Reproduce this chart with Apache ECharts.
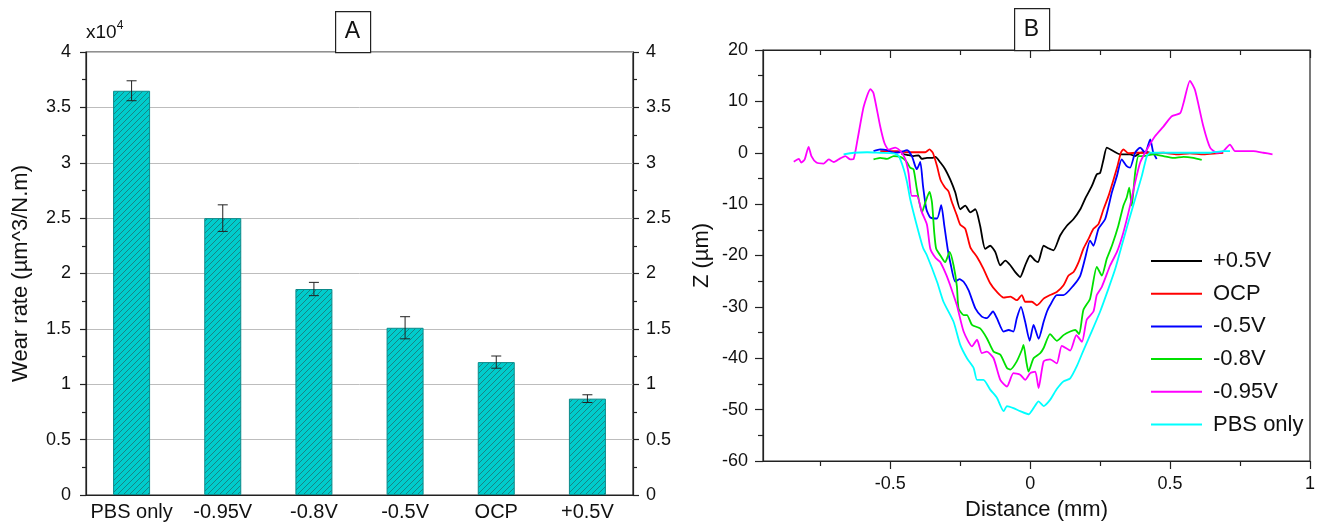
<!DOCTYPE html>
<html>
<head>
<meta charset="utf-8">
<script src="https://cdn.jsdelivr.net/npm/echarts@6/dist/echarts.min.js"></script>
<style>
html,body{margin:0;padding:0;background:#fff;}
#chart{width:1325px;height:526px;}
</style>
</head>
<body>
<div id="chart"></div>
<script>
// panel A : wear rate (x10^4)
var categories = ['PBS only', '-0.95V', '-0.8V', '-0.5V', 'OCP', '+0.5V'];
var wearRate = [3.65, 2.50, 1.86, 1.51, 1.20, 0.87];
var wearErr = [0.09, 0.12, 0.06, 0.10, 0.055, 0.035];

// panel B : profiles [distance mm, Z um]
var lineNames = ['+0.5V', 'OCP', '-0.5V', '-0.8V', '-0.95V', 'PBS only'];
var lineColors = ['#000000', '#ff0000', '#0000ff', '#00e000', '#ff00ff', '#00ffff'];

var p05V = [[-0.46,-0.2],[-0.44,-0.4],[-0.417,-0.65],[-0.399,-0.5],[-0.387,-1.2],[-0.369,-1.0],[-0.351,-1.0],[-0.339,-0.8],
  [-0.321,-1.9],[-0.304,-3.2],[-0.286,-5.2],[-0.268,-7.7],[-0.25,-11],[-0.232,-10.3],[-0.214,-11.6],[-0.196,-11],
  [-0.179,-14.2],[-0.161,-18.7],[-0.143,-18.1],[-0.125,-19.3],[-0.107,-21.9],[-0.089,-21.0],[-0.071,-21.9],[-0.054,-23.2],
  [-0.036,-24.2],[-0.018,-21.9],[0,-20],[0.018,-21],[0.028,-21.3],[0.048,-18.1],[0.065,-18.6],[0.083,-19],[0.107,-16.1],
  [0.131,-14.2],[0.155,-12.9],[0.179,-11],[0.196,-9.0],[0.22,-6.5],[0.238,-4.2],[0.25,-3.9],[0.262,-1.3],[0.274,1.0],
  [0.298,0.3],[0.321,-0.3],[0.345,-0.3],[0.357,-0.3],[0.375,-0.65],[0.393,0],[0.417,0.1],[0.435,-0.1]];

var ocp = [[-0.536,0.3],[-0.512,0.3],[-0.476,0.3],[-0.44,0.1],[-0.405,0.1],[-0.375,0.1],[-0.36,0.65],[-0.348,0],
  [-0.333,-2.6],[-0.321,-5.2],[-0.304,-6.8],[-0.292,-7.5],[-0.28,-9.6],[-0.262,-12.2],[-0.25,-14.0],[-0.232,-14.8],
  [-0.214,-18.4],[-0.19,-20.3],[-0.167,-22.6],[-0.143,-25.4],[-0.119,-27.1],[-0.095,-28.2],[-0.071,-28.0],[-0.048,-28.7],
  [-0.030,-27.7],[-0.018,-29],[0.006,-29],[0.024,-29.7],[0.048,-28.4],[0.071,-27.7],[0.095,-27.1],[0.119,-25.8],
  [0.137,-23.9],[0.155,-23.2],[0.173,-21.3],[0.19,-18.7],[0.208,-16.8],[0.226,-14.8],[0.244,-13.9],[0.262,-11],
  [0.28,-8.4],[0.298,-5.2],[0.312,-2.6],[0.324,0],[0.333,0.65],[0.351,-0.1],[0.381,0],[0.41,0],[0.44,-0.1],[0.476,0],
  [0.524,-0.3],[0.571,-0.1],[0.619,-0.3],[0.667,-0.1],[0.69,0]];

var m05V = [[-0.56,0.3],[-0.536,0.65],[-0.512,0.5],[-0.488,0],[-0.464,0.1],[-0.44,0.5],[-0.423,-0.65],[-0.411,-2.6],
  [-0.405,-3.2],[-0.393,-1.8],[-0.383,-6.5],[-0.371,-11],[-0.357,-12.6],[-0.333,-12.8],[-0.318,-10.2],[-0.307,-14.2],
  [-0.295,-18.7],[-0.285,-21.5],[-0.268,-25.1],[-0.253,-24.6],[-0.238,-25.1],[-0.22,-26.8],[-0.196,-30.3],[-0.173,-31.9],
  [-0.155,-32.2],[-0.133,-30.9],[-0.119,-32.2],[-0.095,-34.8],[-0.077,-34.5],[-0.06,-34.8],[-0.048,-32.2],[-0.033,-30],
  [-0.018,-32.9],[-0.002,-36.6],[0.012,-33.5],[0.030,-36.2],[0.048,-32.9],[0.06,-30.9],[0.071,-29.7],[0.095,-27.7],
  [0.119,-27.7],[0.155,-25.8],[0.179,-23.9],[0.196,-20.6],[0.214,-17.1],[0.226,-18.1],[0.244,-14.8],[0.268,-12.9],
  [0.292,-7.7],[0.31,-4.5],[0.327,-1.3],[0.345,-2.6],[0.357,-2.9],[0.375,0],[0.393,1.0],[0.411,0],[0.429,2.6],
  [0.44,0],[0.452,-1.2]];

var m08V = [[-0.56,-1.3],[-0.536,-1.0],[-0.512,-1.2],[-0.488,-0.65],[-0.464,-0.8],[-0.452,-1.2],[-0.44,-1.9],[-0.429,-2.9],
  [-0.417,-3.2],[-0.405,-7.1],[-0.387,-11.6],[-0.375,-9.7],[-0.36,-7.6],[-0.351,-9.7],[-0.343,-15.5],[-0.336,-18.7],
  [-0.321,-20],[-0.304,-21.3],[-0.288,-19.3],[-0.274,-21.9],[-0.262,-26],[-0.256,-30.3],[-0.238,-31.6],[-0.226,-31.6],
  [-0.208,-33.5],[-0.179,-34.2],[-0.155,-36.1],[-0.131,-38.7],[-0.107,-39.3],[-0.083,-41.9],[-0.071,-42.2],[-0.048,-40.6],
  [-0.030,-38.4],[-0.024,-37.4],[-0.014,-40.6],[-0.006,-42.6],[0.012,-40],[0.036,-39],[0.048,-38],[0.071,-35.3],
  [0.095,-36.6],[0.119,-35.5],[0.143,-34.8],[0.161,-34.5],[0.175,-35.3],[0.19,-30.6],[0.214,-28.4],[0.238,-22.2],
  [0.256,-23.9],[0.274,-20.6],[0.292,-18.1],[0.315,-14.2],[0.333,-10.3],[0.345,-8.7],[0.354,-6.8],[0.363,-10.3],
  [0.375,-3.9],[0.387,-0.65],[0.405,-0.65],[0.44,-0.3],[0.476,-0.65],[0.512,-1],[0.548,-0.8],[0.583,-1],[0.613,-1.4]];

var m095V = [[-0.845,-1.74],[-0.827,-1.2],[-0.818,-1.9],[-0.806,-1.3],[-0.792,1.15],[-0.782,-0.65],[-0.764,-1.9],
  [-0.738,-2.1],[-0.72,-1.3],[-0.702,-1.8],[-0.679,-1.1],[-0.661,-0.65],[-0.643,-1.3],[-0.631,-1.2],[-0.617,2.6],
  [-0.595,9.0],[-0.571,12.4],[-0.56,11.6],[-0.536,5.1],[-0.521,1.9],[-0.506,0.6],[-0.482,1.0],[-0.464,0.3],[-0.446,-1.3],
  [-0.435,-3.9],[-0.423,-8.4],[-0.405,-8.4],[-0.387,-11.6],[-0.369,-14],[-0.357,-18.7],[-0.338,-20.5],[-0.321,-21.3],
  [-0.298,-24],[-0.286,-25.8],[-0.262,-29.7],[-0.238,-34.8],[-0.208,-37.7],[-0.19,-36.4],[-0.173,-39],[-0.155,-38.7],
  [-0.131,-40],[-0.107,-44.2],[-0.083,-45.5],[-0.06,-42.9],[-0.036,-43.2],[-0.018,-44.2],[0,-42.9],[0.018,-42.6],
  [0.03,-45.8],[0.048,-40.6],[0.071,-40.2],[0.095,-41],[0.113,-37.6],[0.143,-38.5],[0.165,-35.5],[0.185,-36.8],
  [0.202,-32.5],[0.226,-30.9],[0.238,-27.7],[0.256,-26.1],[0.286,-21.9],[0.31,-19.3],[0.333,-15.5],[0.357,-10.3],
  [0.375,-5.8],[0.393,-1.9],[0.417,0.6],[0.446,3.2],[0.476,5.1],[0.506,7.1],[0.536,7.7],[0.548,9.7],[0.571,14.0],
  [0.589,12.2],[0.619,5.1],[0.643,1.0],[0.667,0],[0.69,0.3],[0.714,1.6],[0.732,0.3],[0.762,0.3],[0.798,0.3],
  [0.833,0],[0.866,-0.3]];

var pbsOnly = [[-0.667,-0.3],[-0.631,0],[-0.583,0.1],[-0.536,0],[-0.488,-0.1],[-0.47,-0.65],[-0.452,-3.2],[-0.44,-5.8],
  [-0.429,-9.0],[-0.405,-14.2],[-0.383,-18.5],[-0.369,-20],[-0.333,-25.1],[-0.31,-29],[-0.274,-32.9],[-0.25,-37.4],
  [-0.226,-40],[-0.202,-41.9],[-0.19,-44.2],[-0.167,-44.2],[-0.143,-46.1],[-0.119,-47.7],[-0.095,-50.3],[-0.083,-49.3],
  [-0.06,-49.7],[-0.036,-50.3],[-0.006,-50.9],[0.012,-49.7],[0.03,-48.4],[0.048,-49.3],[0.071,-48.1],[0.095,-46],
  [0.119,-44.5],[0.143,-43.9],[0.167,-41.5],[0.19,-38.5],[0.214,-35.5],[0.25,-30.9],[0.28,-26.4],[0.304,-22.6],
  [0.327,-18.1],[0.351,-13.5],[0.375,-9.0],[0.399,-4.5],[0.417,-0.65],[0.429,0],[0.476,0],[0.524,0],[0.571,0],
  [0.643,0],[0.69,0.3],[0.714,0.3]];

var lineData = [p05V, ocp, m05V, m08V, m095V, pbsOnly];
var xMajor = [-0.5, 0, 0.5, 1];
var xMinor = [-0.75, -0.25, 0.25, 0.75];

var FONT = '"Liberation Sans", Arial, sans-serif';
var AXIS = '#222';

function hatch() {
    var c = document.createElement('canvas');
    c.width = 6; c.height = 6;
    var g = c.getContext('2d');
    g.fillStyle = '#00cccc';
    g.fillRect(0, 0, 6, 6);
    g.strokeStyle = '#178585';
    g.lineWidth = 1;
    g.beginPath();
    g.moveTo(0, 6); g.lineTo(6, 0);
    g.moveTo(-1, 1); g.lineTo(1, -1);
    g.moveTo(5, 7); g.lineTo(7, 5);
    g.stroke();
    return c;
}

var chart = echarts.init(document.getElementById('chart'), null, {renderer: 'canvas'});

var errData = wearRate.map(function (v, i) { return [i, v - wearErr[i], v + wearErr[i]]; });

var series = [
    {
        type: 'bar', xAxisIndex: 0, yAxisIndex: 0,
        data: wearRate, barWidth: 37,
        itemStyle: {color: {image: hatch(), repeat: 'repeat'}, borderColor: '#0a8a8a', borderWidth: 1},
        silent: true
    },
    {
        type: 'custom', xAxisIndex: 0, yAxisIndex: 0, z: 5,
        data: errData,
        renderItem: function (params, api) {
            var lo = api.coord([api.value(0), api.value(1)]);
            var hi = api.coord([api.value(0), api.value(2)]);
            var w = 5;
            var st = {stroke: '#222', lineWidth: 1};
            return {type: 'group', children: [
                {type: 'line', shape: {x1: lo[0], y1: lo[1], x2: hi[0], y2: hi[1]}, style: st},
                {type: 'line', shape: {x1: lo[0] - w, y1: lo[1], x2: lo[0] + w, y2: lo[1]}, style: st},
                {type: 'line', shape: {x1: hi[0] - w, y1: hi[1], x2: hi[0] + w, y2: hi[1]}, style: st}
            ]};
        }
    }
];
lineNames.forEach(function (n, i) {
    series.push({
        name: n, type: 'line', xAxisIndex: 1, yAxisIndex: 2,
        data: lineData[i], symbol: 'none', smooth: 0.2,
        lineStyle: {color: lineColors[i], width: 1.8},
        itemStyle: {color: lineColors[i]}
    });
});

var yLabel = {color: '#111', fontSize: 18, fontFamily: FONT};

var option = {
    animation: false,
    backgroundColor: '#fff',
    textStyle: {fontFamily: FONT},
    grid: [
        {left: 86, right: 692, top: 52, bottom: 31, show: true, borderColor: AXIS, borderWidth: 1.2},
        {left: 763, right: 15, top: 50, bottom: 63, show: true, borderColor: AXIS, borderWidth: 1.2}
    ],
    xAxis: [
        {
            type: 'category', gridIndex: 0, data: categories,
            axisLine: {lineStyle: {color: AXIS, width: 1.2}},
            axisTick: {show: false},
            axisLabel: {interval: 0, color: '#111', fontSize: 20, fontFamily: FONT, margin: 7}
        },
        {
            type: 'value', gridIndex: 1, position: 'bottom', min: -0.955, max: 1,
            axisLine: {onZero: false, lineStyle: {color: AXIS, width: 1.2}},
            axisTick: {customValues: xMajor, length: 8, lineStyle: {color: AXIS, width: 1.2}},
            axisLabel: {customValues: xMajor, color: '#111', fontSize: 18, fontFamily: FONT, margin: 14},
            splitLine: {show: false},
            name: 'Distance (mm)', nameLocation: 'middle', nameGap: 38,
            nameTextStyle: {color: '#111', fontSize: 22, fontFamily: FONT}
        },
        {
            type: 'value', gridIndex: 1, position: 'top', min: -0.955, max: 1,
            axisLine: {onZero: false, lineStyle: {color: AXIS, width: 1.2}},
            axisTick: {customValues: xMajor, inside: true, length: 8, lineStyle: {color: AXIS, width: 1.2}},
            axisLabel: {show: false}, splitLine: {show: false}
        },
        {
            type: 'value', gridIndex: 1, position: 'bottom', min: -0.955, max: 1,
            axisLine: {show: false, onZero: false},
            axisTick: {customValues: xMinor, length: 5, lineStyle: {color: AXIS, width: 1.2}},
            axisLabel: {show: false}, splitLine: {show: false}
        },
        {
            type: 'value', gridIndex: 1, position: 'top', min: -0.955, max: 1,
            axisLine: {show: false, onZero: false},
            axisTick: {customValues: xMinor, inside: true, length: 5, lineStyle: {color: AXIS, width: 1.2}},
            axisLabel: {show: false}, splitLine: {show: false}
        }
    ],
    yAxis: [
        {
            type: 'value', gridIndex: 0, position: 'left', min: 0, max: 4, interval: 0.5,
            axisLine: {show: true, lineStyle: {color: AXIS, width: 1.2}},
            axisTick: {show: true, length: 6, lineStyle: {color: AXIS, width: 1.2}},
            minorTick: {show: true, splitNumber: 2, length: 4, lineStyle: {color: AXIS, width: 1.2}},
            axisLabel: Object.assign({margin: 15}, yLabel),
            splitLine: {show: true, lineStyle: {color: '#bdbdbd', width: 1}},
            name: 'Wear rate (\u00b5m^3/N.m)', nameLocation: 'middle', nameGap: 54,
            nameTextStyle: {color: '#111', fontSize: 22, fontFamily: FONT}
        },
        {
            type: 'value', gridIndex: 0, position: 'right', min: 0, max: 4, interval: 0.5,
            axisLine: {show: true, lineStyle: {color: AXIS, width: 1.2}},
            axisTick: {show: true, length: 6, lineStyle: {color: AXIS, width: 1.2}},
            minorTick: {show: true, splitNumber: 2, length: 4, lineStyle: {color: AXIS, width: 1.2}},
            axisLabel: Object.assign({margin: 13}, yLabel),
            splitLine: {show: false}
        },
        {
            type: 'value', gridIndex: 1, position: 'left', min: -60, max: 20, interval: 10,
            axisLine: {show: true, onZero: false, lineStyle: {color: AXIS, width: 1.2}},
            axisTick: {show: true, length: 8, lineStyle: {color: AXIS, width: 1.2}},
            minorTick: {show: true, splitNumber: 2, length: 5, lineStyle: {color: AXIS, width: 1.2}},
            axisLabel: Object.assign({margin: 15}, yLabel),
            splitLine: {show: false},
            name: 'Z (\u00b5m)', nameLocation: 'middle', nameGap: 50,
            nameTextStyle: {color: '#111', fontSize: 22, fontFamily: FONT}
        }
    ],
    legend: {
        data: lineNames, orient: 'vertical', left: 1151, top: 250,
        icon: 'path://M0,0H51V2H0Z',
        itemWidth: 51, itemHeight: 20, itemGap: 10.7, padding: 0,
        textStyle: {color: '#111', fontSize: 22, fontFamily: FONT, padding: [0, 0, 0, 6]}
    },
    graphic: [
        {type: 'rect', left: 335, top: 11, z: 100, shape: {width: 35, height: 41}, style: {fill: '#fff', stroke: AXIS, lineWidth: 1.2}},
        {type: 'text', x: 352.5, y: 32, z: 101, style: {text: 'A', fill: '#111', font: '23px ' + FONT, align: 'center', verticalAlign: 'middle'}},
        {type: 'rect', left: 1014, top: 8, z: 100, shape: {width: 35, height: 42}, style: {fill: '#fff', stroke: AXIS, lineWidth: 1.2}},
        {type: 'text', x: 1031.5, y: 30, z: 101, style: {text: 'B', fill: '#111', font: '23px ' + FONT, align: 'center', verticalAlign: 'middle'}},
        {type: 'text', x: 86, y: 20, z: 101, style: {
            text: '{a|x10}{b|4}', fill: '#111',
            rich: {a: {fontSize: 19, fontFamily: FONT, verticalAlign: 'bottom'}, b: {fontSize: 12, fontFamily: FONT, padding: [0, 0, 10, 0]}}
        }}
    ],
    series: series
};
chart.setOption(option);
</script>
</body>
</html>
